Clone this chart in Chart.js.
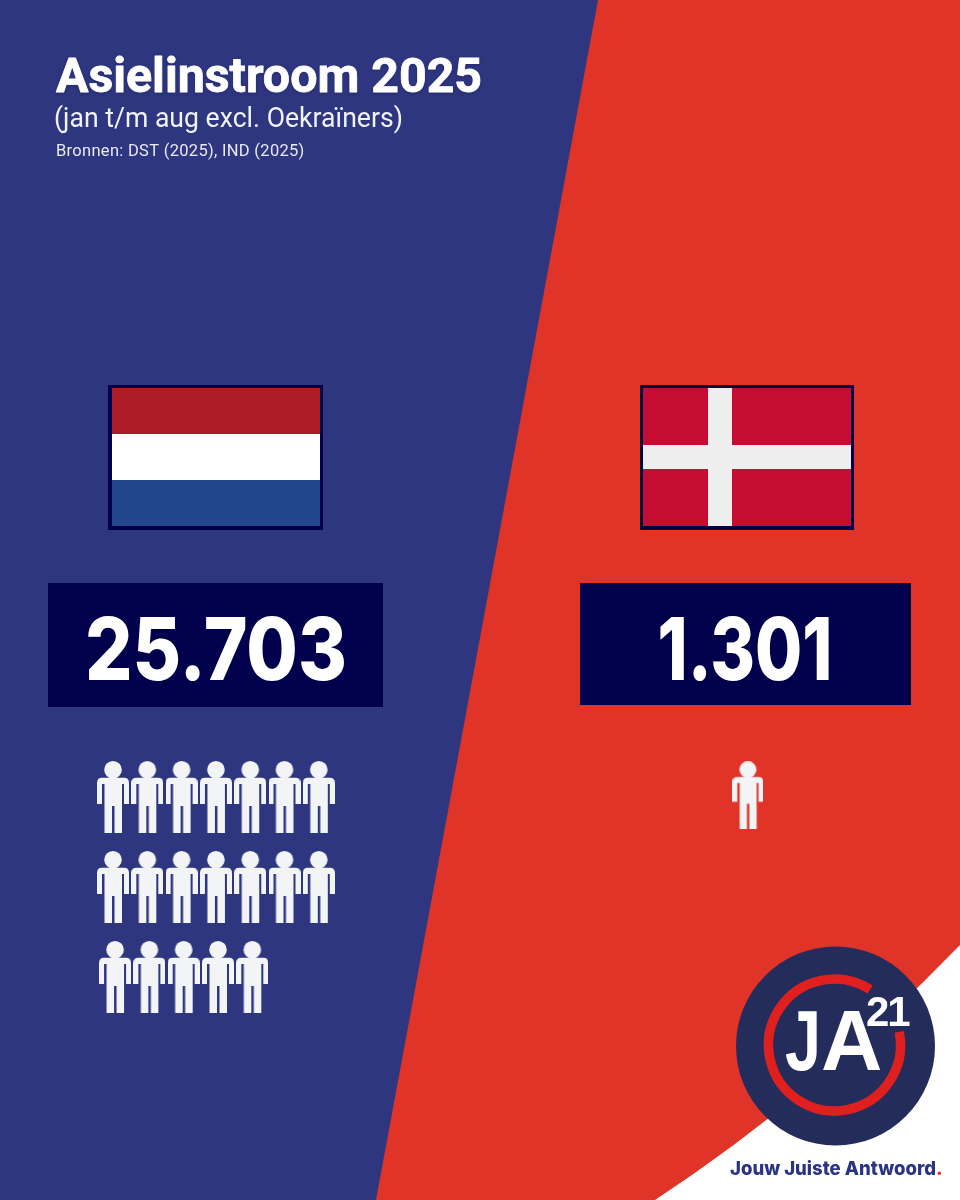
<!DOCTYPE html>
<html lang="nl">
<head>
<meta charset="utf-8">
<title>Asielinstroom 2025</title>
<script src="https://cdn.jsdelivr.net/npm/chart.js@4"></script>
<style>
  html, body { margin: 0; padding: 0; background: #fff; }
  canvas { display: block; }
</style>
</head>
<body>
<canvas id="chart" width="960" height="1200"></canvas>
<script>
// data
const countries = ['Nederland', 'Denemarken'];
const inflow = [25703, 1301];
const iconRowsNL = [7, 7, 5];
const iconRowsDK = [1];

const titleText = 'Asielinstroom 2025';
const subtitleText = '(jan t/m aug excl. Oekraïners)';
const sourceText = 'Bronnen: DST (2025), IND (2025)';
const taglineText = 'Jouw Juiste Antwoord';

const BLUE = '#2e3680';
const RED = '#e03428';
const NAVY = '#00004d';
const ICON = '#f3f4f6';
const FONT = 'Roboto, sans-serif';

// person icon used as point style, drawn once for each size
function personIcon(w, h) {
    const c = document.createElement('canvas');
    c.width = w;
    c.height = h;
    const g = c.getContext('2d');
    g.scale(w / 32, h / 72);
    g.fillStyle = ICON;
    g.beginPath();
    g.arc(16, 8.8, 8.8, 0, Math.PI * 2);
    g.fill();
    g.beginPath();
    g.moveTo(0, 43);
    g.lineTo(0, 22);
    g.quadraticCurveTo(0, 16.8, 5, 16.8);
    g.lineTo(27, 16.8);
    g.quadraticCurveTo(32, 16.8, 32, 22);
    g.lineTo(32, 43);
    g.lineTo(27, 43);
    g.lineTo(27, 23);
    g.lineTo(25, 23);
    g.lineTo(25, 72);
    g.lineTo(17.5, 72);
    g.lineTo(17.5, 45);
    g.lineTo(15, 45);
    g.lineTo(15, 72);
    g.lineTo(7.5, 72);
    g.lineTo(7.5, 23);
    g.lineTo(5, 23);
    g.lineTo(5, 43);
    g.closePath();
    g.fill();
    return c;
}

function iconPoints(rows, startCol, nudge) {
    return rows.flatMap((n, r) =>
        Array.from({ length: n }, (_, c) => ({ x: startCol + c + (r === 2 ? nudge : 0), y: r }))
    );
}

function formatNL(v) {
    return String(v).replace(/\B(?=(\d{3})+$)/g, '.');
}

function rect(ctx, color, x, y, w, h) {
    ctx.fillStyle = color;
    ctx.fillRect(x, y, w, h);
}

function text(ctx, str, x, y, font, color, maxWidth, align) {
    ctx.font = font;
    ctx.fillStyle = color;
    ctx.textAlign = align || 'left';
    ctx.textBaseline = 'alphabetic';
    ctx.fillText(str, x, y, maxWidth);
}

// background, flags and number boxes go under the icons
const backdrop = {
    id: 'backdrop',
    beforeDraw(chart) {
        const ctx = chart.ctx;
        ctx.save();
        rect(ctx, BLUE, 0, 0, 960, 1200);

        ctx.fillStyle = RED;
        ctx.beginPath();
        ctx.moveTo(598, 0);
        ctx.lineTo(960, 0);
        ctx.lineTo(960, 1200);
        ctx.lineTo(376, 1200);
        ctx.closePath();
        ctx.fill();

        // white corner
        ctx.fillStyle = '#fff';
        ctx.beginPath();
        ctx.moveTo(960, 945);
        ctx.quadraticCurveTo(815, 1095, 655, 1200);
        ctx.lineTo(960, 1200);
        ctx.closePath();
        ctx.fill();

        // titles, outline goes first so the shadow does not grey the letters
        ctx.shadowColor = 'rgba(0,0,30,0.45)';
        ctx.shadowBlur = 3;
        ctx.shadowOffsetY = 1;
        ctx.font = 'bold 48.3px ' + FONT;
        ctx.strokeStyle = '#fff';
        ctx.lineJoin = 'round';
        ctx.lineWidth = 0.8;
        ctx.strokeText(titleText, 56, 92);
        ctx.shadowColor = 'transparent';
        ctx.shadowBlur = 0;
        ctx.shadowOffsetY = 0;
        text(ctx, titleText, 56, 92, 'bold 48.3px ' + FONT, '#fff');
        text(ctx, subtitleText, 54, 127, '27px ' + FONT, '#f2f3f8', 349);
        ctx.letterSpacing = '0.3px';
        text(ctx, sourceText, 56, 156, '16.5px ' + FONT, '#e8e9f2', 249);
        ctx.letterSpacing = '0px';

        // NL flag
        rect(ctx, NAVY, 108, 385, 215, 145);
        rect(ctx, '#ae1c28', 112, 388, 208, 46);
        rect(ctx, '#ffffff', 112, 434, 208, 46);
        rect(ctx, '#21468b', 112, 480, 208, 46);

        // DK flag
        rect(ctx, NAVY, 640, 385, 214, 145);
        rect(ctx, '#c60c30', 643, 388, 208, 138);
        rect(ctx, '#eeeeee', 708, 388, 24, 138);
        rect(ctx, '#eeeeee', 643, 445, 208, 24);

        // number boxes
        rect(ctx, NAVY, 48, 583, 335, 124);
        rect(ctx, NAVY, 580, 583, 331, 122);
        const numFont = '800 86px Inter, sans-serif';
        text(ctx, formatNL(inflow[0]), 216, 680, numFont, '#fff', 262, 'center');
        text(ctx, formatNL(inflow[1]), 745, 680, numFont, '#fff', 175, 'center');
        ctx.restore();
    }
};

// party logo and tagline on top
const logo = {
    id: 'logo',
    afterDraw(chart) {
        const ctx = chart.ctx;
        ctx.save();
        ctx.fillStyle = '#242c5c';
        ctx.beginPath();
        ctx.arc(835.5, 1046, 99.5, 0, Math.PI * 2);
        ctx.fill();

        ctx.strokeStyle = '#e0201f';
        ctx.lineWidth = 9.5;
        ctx.beginPath();
        ctx.arc(834.5, 1045, 66, -0.2, -1.0);
        ctx.stroke();

        const logoFont = '"Liberation Sans", sans-serif';
        text(ctx, 'J', 785, 1070, 'bold 85px ' + logoFont, '#fff', 36);
        text(ctx, 'A', 821, 1070, 'bold 85px ' + logoFont, '#fff');
        ctx.letterSpacing = '-2px';
        text(ctx, '21', 866, 1026, 'bold 42px ' + logoFont, '#fff');
        ctx.letterSpacing = '0px';

        text(ctx, taglineText, 730, 1175, '800 19px Inter, sans-serif', '#2b3480', 206);
        text(ctx, '.', 936, 1175, '800 19px Inter, sans-serif', RED);
        ctx.restore();
    }
};

new Chart(document.getElementById('chart'), {
    type: 'scatter',
    data: {
        datasets: [
            {
                label: countries[0],
                data: iconPoints(iconRowsNL, 0, 0.06),
                pointStyle: personIcon(32, 72),
                clip: false
            },
            {
                label: countries[1],
                data: iconPoints(iconRowsDK, 18.51, 0).map(p => ({ x: p.x, y: p.y - 0.02 })),
                pointStyle: personIcon(31, 68),
                clip: false
            }
        ]
    },
    plugins: [backdrop, logo],
    options: {
        responsive: false,
        animation: false,
        devicePixelRatio: 1,
        layout: { padding: { left: 95.85, right: 195.3, top: 752, bottom: 178 } },
        plugins: {
            legend: { display: false },
            tooltip: { enabled: false }
        },
        scales: {
            x: { type: 'linear', display: false, min: -0.5, max: 19 },
            y: { type: 'linear', display: false, min: -0.5, max: 2.5, reverse: true }
        }
    }
});
</script>
</body>
</html>
